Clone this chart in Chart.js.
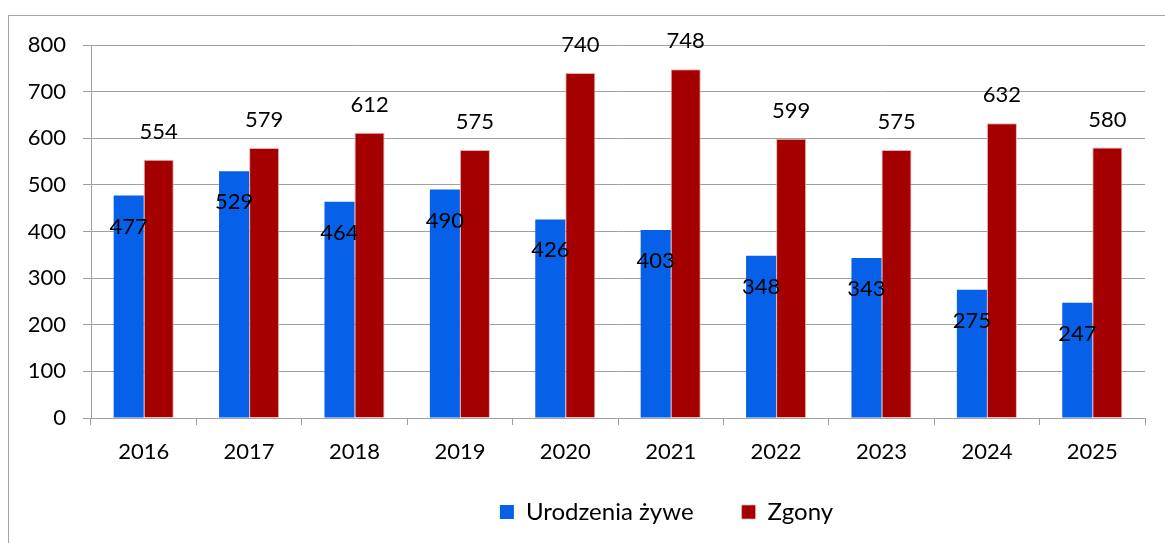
<!DOCTYPE html>
<html>
<head>
<meta charset="utf-8">
<script src="https://cdn.jsdelivr.net/npm/chart.js@4.4.0/dist/chart.umd.min.js"></script>
<style>
  html, body { margin: 0; padding: 0; background: #fff; }
  #wrap { width: 1165px; height: 543px; position: relative; }
</style>
</head>
<body>
<div id="wrap"><canvas id="chart" width="1165" height="543"></canvas></div>
<script>
// dane
const lata = ['2016', '2017', '2018', '2019', '2020', '2021', '2022', '2023', '2024', '2025'];
const urodzenia = [477, 529, 464, 490, 426, 403, 348, 343, 275, 247];
const zgony = [554, 579, 612, 575, 740, 748, 599, 575, 632, 580];
const yTicks = [0, 100, 200, 300, 400, 500, 600, 700, 800];

const FONT = 'Lato, "Open Sans", sans-serif';

// ramka wykresu (lewa i górna krawędź)
const ramka = {
    id: 'ramka',
    beforeDraw(chart) {
        const ctx = chart.ctx;
        ctx.save();
        ctx.strokeStyle = '#a6a6a6';
        ctx.lineWidth = 1;
        ctx.strokeRect(8.5, 15.5, 1300, 700);
        ctx.restore();
    }
};

// położenie legendy jak w oryginale (przesunięta w prawo)
const legendaPrzesun = {
    id: 'legendaPrzesun',
    afterLayout(chart) {
        const lg = chart.legend;
        const d = 94;
        const h = lg.bottom - lg.top;
        lg.left += d;
        lg.right += d;
        lg.top = 452;
        lg.bottom = 452 + h;
    }
};

// etykiety wartości: niebieskie wewnątrz słupka, czerwone nad słupkiem
const etykiety = {
    id: 'etykiety',
    afterDatasetsDraw(chart) {
        const ctx = chart.ctx;
        ctx.save();
        ctx.font = '22px ' + FONT;
        ctx.fillStyle = '#000';
        ctx.textAlign = 'center';
        ctx.textBaseline = 'middle';
        chart.data.datasets.forEach((ds, i) => {
            const meta = chart.getDatasetMeta(i);
            meta.data.forEach((bar, j) => {
                const off = i === 0 ? 31 : -28;
                ctx.fillText(ds.data[j], bar.x, bar.y + off);
            });
        });
        ctx.restore();
    }
};

new Chart(document.getElementById('chart'), {
    type: 'bar',
    data: {
        labels: lata,
        datasets: [
            {
                label: 'Urodzenia żywe',
                data: urodzenia,
                backgroundColor: '#0760e8',
                categoryPercentage: 0.57,
                barPercentage: 1
            },
            {
                label: 'Zgony',
                data: zgony,
                backgroundColor: '#a50000',
                borderColor: '#e8b0b0',
                borderWidth: { top: 1, left: 1, right: 1, bottom: 0 },
                categoryPercentage: 0.57,
                barPercentage: 1
            }
        ]
    },
    options: {
        responsive: false,
        animation: false,
        devicePixelRatio: 1,
        layout: { padding: { top: 45, right: 20, left: 0, bottom: -19 } },
        scales: {
            x: {
                offset: true,
                grid: {
                    offset: true,
                    drawOnChartArea: false,
                    color: '#a0a0a0',
                    tickLength: 7
                },
                border: { color: '#a0a0a0' },
                ticks: { color: '#000', font: { family: FONT, size: 22 }, padding: 14 },
                afterFit(scale) { scale.height = 62; }
            },
            y: {
                min: 0,
                max: 800,
                afterBuildTicks(scale) { scale.ticks = yTicks.map(v => ({ value: v })); },
                grid: { color: '#a0a0a0', tickLength: 8 },
                border: { color: '#a0a0a0' },
                ticks: { color: '#000', font: { family: FONT, size: 22 }, padding: 17 },
                afterFit(scale) { scale.width = 91; }
            }
        },
        plugins: {
            legend: {
                position: 'bottom',
                labels: {
                    color: '#000',
                    font: { family: FONT, size: 24 },
                    boxWidth: 14,
                    boxHeight: 14,
                    padding: 48
                }
            },
            tooltip: { enabled: false }
        }
    },
    plugins: [ramka, legendaPrzesun, etykiety]
});
</script>
</body>
</html>
